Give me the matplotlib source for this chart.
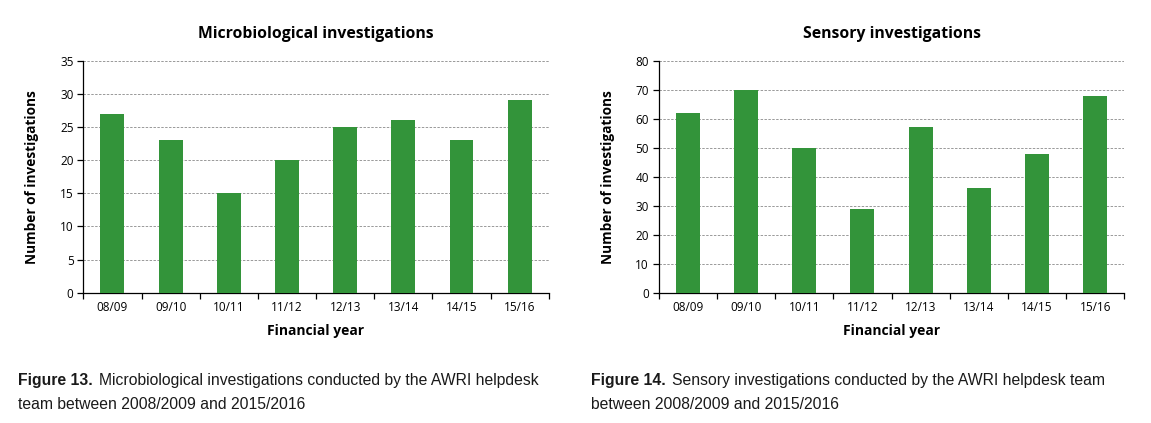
import numpy as np
import matplotlib
matplotlib.use("Agg")
import matplotlib.pyplot as plt

# -----------------------------
# Data
# -----------------------------
years = ["08/09", "09/10", "10/11", "11/12", "12/13", "13/14", "14/15", "15/16"]
micro_counts = [27, 23, 15, 20, 25, 26, 23, 29]
sensory_counts = [62, 70, 50, 29, 57, 36, 48, 68]

micro_title = "Microbiological investigations"
sensory_title = "Sensory investigations"
y_label = "Number of investigations"
x_label = "Financial year"

captions = [
    ("Figure 13.", "Microbiological investigations conducted by the AWRI helpdesk",
     "team between 2008/2009 and 2015/2016"),
    ("Figure 14.", "Sensory investigations conducted by the AWRI helpdesk team",
     "between 2008/2009 and 2015/2016"),
]

# -----------------------------
# Style
# -----------------------------
GREEN = "#33943a"
FONT = ["Open Sans", "DejaVu Sans"]
CAP_FONT = ["Liberation Sans Narrow", "Liberation Sans", "DejaVu Sans"]
plt.rcParams["font.family"] = FONT

fig = plt.figure(figsize=(11.51, 4.23), dpi=100)

panels = [
    ([0.0724, 0.308, 0.4043, 0.5485], micro_counts, micro_title, 35, 5),
    ([0.5723, 0.308, 0.4045, 0.5485], sensory_counts, sensory_title, 80, 10),
]

x = np.arange(len(years))

for rect, values, title, ymax, step in panels:
    ax = fig.add_axes(rect)
    ax.bar(x, values, width=0.41, color=GREEN, zorder=3)

    ax.set_xlim(-0.5, len(years) - 0.5)
    ax.set_ylim(0, ymax)
    ax.set_yticks(np.arange(0, ymax + 1, step))

    # category labels centred, tick marks at category boundaries
    ax.set_xticks(np.arange(-0.5, len(years), 1.0))
    ax.set_xticklabels([])
    ax.set_xticks(x, minor=True)
    ax.set_xticklabels(years, minor=True)
    ax.tick_params(axis="x", which="major", length=4, width=0.9, direction="out")
    ax.tick_params(axis="x", which="minor", length=0, labelsize=8.5, pad=6)
    ax.tick_params(axis="y", length=4, width=0.9, labelsize=8.5, pad=3)

    ax.yaxis.grid(True, linestyle=(0, (2.5, 1.5)), color="#999999", linewidth=0.7, zorder=0)
    ax.spines["top"].set_visible(False)
    ax.spines["right"].set_visible(False)
    for s in ("left", "bottom"):
        ax.spines[s].set_linewidth(0.9)

    ax.set_title(title, fontsize=11.3, weight="bold", pad=16)
    ax.set_ylabel(y_label, fontsize=9.8, weight="bold", labelpad=15)
    ax.set_xlabel(x_label, fontsize=10, weight="bold", labelpad=7)

# -----------------------------
# Captions (bold "Figure N." then regular text)
# -----------------------------
fig.canvas.draw()
renderer = fig.canvas.get_renderer()
cap_x = [18 / 1151, 591 / 1151]
for cx, (lead, line1, line2) in zip(cap_x, captions):
    t = fig.text(cx, 1 - 385 / 423, lead, fontsize=11.3, weight="bold",
                 family=CAP_FONT, va="baseline", color="#1a1a1a")
    bb = t.get_window_extent(renderer)
    x1 = bb.x1 / fig.bbox.width + 6 / 1151
    fig.text(x1, 1 - 385 / 423, line1, fontsize=11.3, family=CAP_FONT,
             va="baseline", color="#1a1a1a")
    fig.text(cx, 1 - 409 / 423, line2, fontsize=11.3, family=CAP_FONT,
             va="baseline", color="#1a1a1a")

fig.savefig("out.png", dpi=100)
